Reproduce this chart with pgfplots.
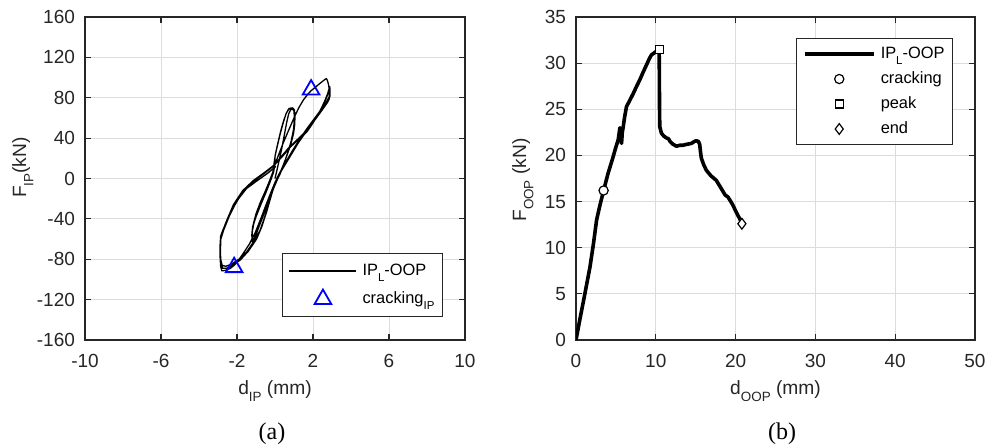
\documentclass[border=0pt]{standalone}
\usepackage{pgfplots}
\pgfplotsset{compat=1.18}
\usepackage{fontspec}
\setmainfont{Liberation Sans}
\newfontfamily\capfont{Liberation Serif}
\definecolor{GridGray}{HTML}{DCDCDC}
\definecolor{AxDark}{HTML}{262626}
% MATLAB-like subscript: smaller and set well below the baseline
\newcommand\sub[1]{\raisebox{-0.38em}{\scalebox{0.7}{#1}}}

\pgfplotsset{
  lineimg/.style={legend image code/.code={\draw[##1] (0pt,0pt) -- (#1,0pt);}},
  lineimgthick/.style={legend image code/.code={\draw[##1,line width=1.1pt] (0pt,0pt) -- (#1,0pt);}},
  markimg/.style={legend image code/.code={%
    \draw[##1,mark repeat=2,mark phase=2] plot coordinates {(0pt,0pt) (#1,0pt) (2*#1,0pt)};}},
  matlab/.style={
    scale only axis,
    anchor=south west,
    height=161.5pt,
    axis line style={AxDark,line width=0.8pt},
    tick style={AxDark,line width=0.6pt},
    major tick length=3pt,
    tick align=inside,
    grid=major,
    grid style={GridGray,line width=0.45pt},
    /pgf/number format/assume math mode=true,
    tick label style={font=\fontsize{9.5}{10}\selectfont,text=AxDark},
    xticklabel style={yshift=-3.6pt},
    yticklabel style={xshift=-1.5pt},
    label style={font=\fontsize{9.6}{11}\selectfont,text=AxDark},
    xlabel style={at={(axis description cs:0.5,-0.1672)},anchor=base},
    legend cell align=left,
    legend style={font=\fontsize{8.2}{9}\selectfont,draw=AxDark,line width=0.5pt,
      inner xsep=3pt,column sep=1.5pt,
      nodes={inner sep=1pt,text height=6.2pt,text depth=2.2pt}},
  },
}

\begin{document}
\begin{tikzpicture}
\useasboundingbox (0,0) rectangle (493.5pt,223.5pt);

% (a) in-plane hysteresis
\begin{axis}[
    matlab,
    at={(42.5pt,53.5pt)},
    width=190pt,
    xmin=-10, xmax=10,
    xtick={-10,-6,-2,2,6,10},
    ymin=-160, ymax=160,
    ytick={-160,-120,-80,-40,0,40,80,120,160},
    xlabel={d\sub{IP} (mm)},
    ylabel={F\sub{IP}(kN)},
    ylabel style={at={(axis description cs:-0.155,0.534)},anchor=base},
    legend style={at={(0.942,0.071)},anchor=south east,inner ysep=3.5pt,row sep=3.6pt},
]
\addplot[black,line width=0.65pt,line join=round,lineimgthick=33.5pt] coordinates {
(0,0) (0.1,8) (0.22,18) (0.36,30) (0.5,44) (0.62,56) (0.72,64) (0.82,68) (0.95,69.5) (1.02,68)
(1.05,62) (1.04,54) (0.98,45) (0.85,35) (0.65,24) (0.45,14) (0.25,5) (0.08,-2) (-0.1,-10) (-0.3,-20)
(-0.55,-32) (-0.8,-45) (-0.98,-55) (-1.1,-62) (-1.15,-65) (-1.2,-62) (-1.22,-56) (-1.18,-48) (-1.0,-38)
(-0.75,-26) (-0.48,-14) (-0.25,-3) (-0.08,6) (0.0,14)
(0.0,22) (0.12,32) (0.27,44) (0.43,55) (0.58,64) (0.72,69) (0.9,69) (1.0,67) (1.03,60) (1.0,50)
(0.9,40) (0.75,30) (0.55,19) (0.35,9) (0.15,0) (-0.05,-8) (-0.3,-19) (-0.55,-31) (-0.8,-43) (-0.98,-53)
(-1.1,-60) (-1.15,-63) (-1.19,-60) (-1.2,-53) (-1.12,-45) (-0.95,-34) (-0.72,-23) (-0.45,-12) (-0.22,-1)
(-0.08,8) (-0.05,15)
(0.02,24) (0.15,35) (0.3,47) (0.45,57) (0.6,65) (0.75,69.5) (0.93,70) (1.0,68) (1.02,58) (0.97,48)
(0.85,37) (0.68,26) (0.48,15) (0.28,5) (0.1,-2) (-0.1,-11) (-0.35,-23) (-0.6,-36) (-0.85,-48) (-1.02,-57)
(-1.12,-64) (-1.17,-61) (-1.2,-54) (-1.15,-46) (-1.0,-35) (-0.78,-24) (-0.52,-13) (-0.28,-2) (-0.1,7)
(0.0,14)
(0.2,24) (0.45,36) (0.7,47) (1.0,60) (1.25,70) (1.5,78) (1.75,84) (1.9,87) (2.1,90) (2.35,94) (2.55,97)
(2.7,99) (2.75,97.5) (2.82,93) (2.86,87) (2.85,81) (2.72,76) (2.45,69) (2.1,60) (1.7,50) (1.3,39) (0.9,27)
(0.5,14) (0.2,4) (0.02,-3) (-0.2,-13) (-0.45,-25) (-0.75,-40) (-1.05,-54) (-1.35,-65) (-1.7,-75) (-2.0,-83)
(-2.15,-86) (-2.35,-89) (-2.6,-91) (-2.8,-91.5) (-2.86,-87) (-2.89,-78) (-2.89,-66) (-2.86,-57) (-2.72,-50)
(-2.5,-41) (-2.2,-29) (-1.85,-18) (-1.45,-8) (-1.0,-1) (-0.5,6) (-0.1,12) (0.1,16)
(0.4,22) (0.8,31) (1.2,38) (1.67,46) (2.0,55) (2.37,67) (2.6,76) (2.75,83) (2.85,89) (2.88,91) (2.9,88)
(2.9,82) (2.8,77) (2.5,69) (2.2,61) (1.75,50) (1.3,38) (0.8,23) (0.4,10) (0.1,0) (-0.15,-14) (-0.44,-33)
(-0.7,-48) (-0.97,-60) (-1.4,-72) (-1.84,-81) (-2.25,-86) (-2.55,-89) (-2.75,-89) (-2.85,-84) (-2.88,-74)
(-2.87,-62) (-2.8,-54) (-2.55,-42) (-2.19,-26) (-1.7,-12) (-1.14,-2) (-0.55,6) (0.0,14)
(0.3,21) (0.7,30) (1.2,39) (1.7,48) (2.05,57) (2.35,66) (2.6,75) (2.75,82) (2.84,88) (2.87,85) (2.86,79)
(2.75,75) (2.45,67) (2.1,58) (1.7,48) (1.25,36) (0.8,22) (0.35,8) (0.05,-2) (-0.2,-16) (-0.5,-36) (-0.8,-52)
(-1.1,-62) (-1.5,-73) (-1.9,-80) (-2.3,-85) (-2.6,-87) (-2.78,-86) (-2.86,-80) (-2.87,-70) (-2.85,-60)
(-2.7,-51) (-2.4,-37) (-2.0,-22) (-1.5,-10) (-1.0,-3) (-0.4,5) (0.05,12)
};
\addlegendentry{IP\sub{L}-OOP}
\addplot[only marks,mark=triangle,mark size=4.8pt,blue,mark options={line width=0.9pt},markimg=16.75pt]
  coordinates {(1.9,88) (-2.15,-88)};
\addlegendentry{cracking\sub{IP}}
\end{axis}

% (b) out-of-plane response
\begin{axis}[
    matlab,
    at={(288pt,53.5pt)},
    width=199.5pt,
    xmin=0, xmax=50,
    xtick={0,10,...,50},
    ymin=0, ymax=35,
    ytick={0,5,...,35},
    xlabel={d\sub{OOP} (mm)},
    ylabel={F\sub{OOP} (kN)},
    ylabel style={at={(axis description cs:-0.1253,0.495)},anchor=base},
    legend style={at={(0.945,0.935)},anchor=north east,inner ysep=2.55pt,row sep=2.1pt},
]
\addplot[black,line width=1.8pt,line join=round,lineimg=34.7pt] coordinates {
(0,0) (0.5,2.3) (1.0,4.5) (1.75,7.9) (2.2,10.5) (2.58,13) (3.0,14.6) (3.46,16.2) (4.0,18.0)
(4.67,19.9) (5.0,20.9) (5.29,21.7) (5.5,23.0) (5.6,22.0) (5.71,21.3) (5.8,22.5) (5.92,23.1)
(6.1,24.2) (6.33,25.3) (6.7,25.9) (7.17,26.7) (7.6,27.5) (8.0,28.2) (8.4,29.0) (8.83,29.8)
(9.2,30.5) (9.46,30.9) (9.8,31.1) (10.08,31.3) (10.42,31.5) (10.45,28) (10.47,25) (10.5,23.1)
(10.71,22.4) (11.0,22.1) (11.33,21.9) (11.6,21.8) (11.8,21.5) (12.17,21.2) (12.6,21.0) (13.0,21.1)
(13.4,21.1) (13.83,21.2) (14.46,21.3) (14.8,21.5) (15.08,21.6) (15.35,21.5) (15.5,21.2) (15.6,20.4)
(15.71,19.7) (16.0,19.0) (16.33,18.4) (16.9,17.8) (17.58,17.3) (18.0,16.7) (18.42,16.1) (18.7,15.7)
(19.04,15.5) (19.4,15.0) (19.67,14.6) (20.0,14.0) (20.29,13.5) (20.6,13.0) (20.75,12.8)
};
\addlegendentry{IP\sub{L}-OOP}
\addplot[only marks,mark=*,mark size=2.3pt,mark options={fill=white,draw=black,line width=0.6pt},markimg=17.35pt]
  coordinates {(3.46,16.2)};
\addlegendentry{cracking}
\addplot[only marks,mark=square*,mark size=2pt,mark options={fill=white,draw=black,line width=0.6pt},markimg=17.35pt]
  coordinates {(10.42,31.5)};
\addlegendentry{peak}
\addplot[only marks,mark=diamond*,mark size=2.7pt,mark options={fill=white,draw=black,line width=0.6pt},markimg=17.35pt]
  coordinates {(20.79,12.6)};
\addlegendentry{end}
\end{axis}

\node[font=\capfont\fontsize{12}{14}\selectfont] at (136pt,6.5pt) {(a)};
\node[font=\capfont\fontsize{12}{14}\selectfont] at (391pt,6.5pt) {(b)};
\end{tikzpicture}
\end{document}
